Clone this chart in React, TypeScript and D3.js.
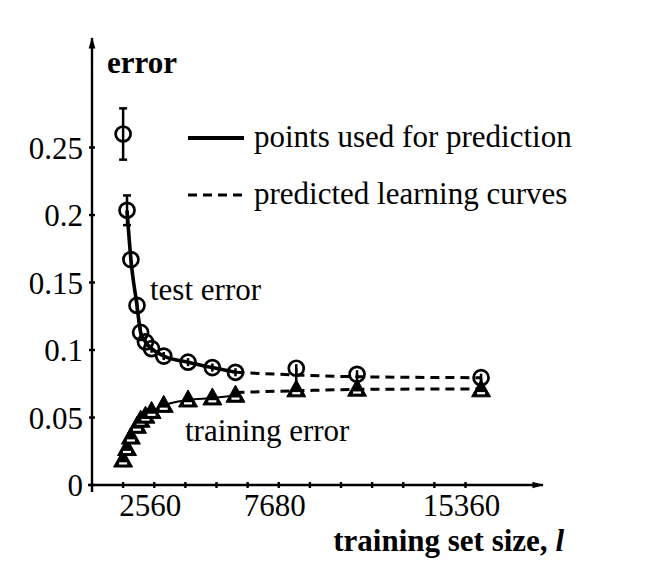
import React from "react";
import * as d3 from "d3";

// Training set sizes of the measured points used to fit the curves
const fitSizes = [1280, 1440, 1600, 1850, 2000, 2200, 2450, 2950, 3950, 4950, 5900];
const fitTest = [0.26, 0.2035, 0.167, 0.133, 0.113, 0.106, 0.101, 0.0955, 0.091, 0.087, 0.0835];
const fitTestErr = [0.019, 0.011, 0.006, 0.005, 0.004, 0.004, 0.003, 0.003, 0.003, 0.003, 0.003];
const fitTrain = [0.0185, 0.027, 0.0355, 0.0435, 0.048, 0.051, 0.0545, 0.059, 0.063, 0.0645, 0.0665];

// Measured points at larger sizes, checked against the extrapolation
const checkSizes = [8400, 10900, 16000];
const checkTest = [0.0865, 0.082, 0.0795];
const checkTrain = [0.0705, 0.071, 0.0705];

// Predicted learning curves
const predSizes = [5900, 8400, 10900, 16000];
const predTest = [0.0835, 0.0815, 0.0802, 0.0795];
const predTrain = [0.0685, 0.0698, 0.0708, 0.0712];

const yTicks = [0, 0.05, 0.1, 0.15, 0.2, 0.25];
const yTickLabels = ["0", "0.05", "0.1", "0.15", "0.2", "0.25"];
const xMinorTicks = d3.range(1, 13).map((k) => k * 1280);
const xTicks = [2560, 7680, 15360];

const W = 648;
const H = 580;
const X0 = 92;
const Y0 = 485;

const x = d3.scaleLinear().domain([0, 15360]).range([X0, 465.5]);
const y = d3.scaleLinear().domain([0, 0.25]).range([Y0, 147.5]);

const serif = "'Liberation Serif', 'DejaVu Serif', serif";
const FS = 31;

function Triangle({ cx, cy }: { cx: number; cy: number }) {
  return (
    <g transform={`translate(${cx},${cy})`}>
      <path d="M0,-10L9.5,7L-9.5,7Z" fill="#000" stroke="#000" strokeWidth={1} strokeLinejoin="round" />
      <rect x={-4} y={2.3} width={8} height={2.2} fill="#fff" />
    </g>
  );
}

function Circle({ cx, cy, e }: { cx: number; cy: number; e: number }) {
  const top = y(y.invert(cy) + e);
  const bot = y(y.invert(cy) - e);
  const caps = e > 0.008;
  return (
    <g>
      <line x1={cx} x2={cx} y1={top} y2={bot} stroke="#000" strokeWidth={2.5} />
      {caps && <line x1={cx - 4} x2={cx + 4} y1={top} y2={top} stroke="#000" strokeWidth={2.5} />}
      {caps && <line x1={cx - 4} x2={cx + 4} y1={bot} y2={bot} stroke="#000" strokeWidth={2.5} />}
      <circle cx={cx} cy={cy} r={7.5} fill="none" stroke="#000" strokeWidth={2.7} />
    </g>
  );
}

export default function App() {
  const line = d3
    .line<[number, number]>()
    .x((d) => x(d[0]))
    .y((d) => y(d[1]))
    .curve(d3.curveMonotoneX);

  const fitTestPts = fitSizes.slice(1).map((s, i) => [s, fitTest[i + 1]] as [number, number]);
  const fitTrainPts = fitSizes.slice(1).map((s, i) => [s, fitTrain[i + 1]] as [number, number]);
  const predTestPts = predSizes.map((s, i) => [s, predTest[i]] as [number, number]);
  const predTrainPts = predSizes.map((s, i) => [s, predTrain[i]] as [number, number]);

  return (
    <svg width={W} height={H} style={{ display: "block", margin: "-8px", background: "#fff" }}>
      <defs>
        <marker id="arrow" viewBox="0 0 12 10" refX="11" refY="5" markerWidth="5" markerHeight="4" orient="auto">
          <path d="M0,1.5L12,5L0,8.5Z" fill="#000" />
        </marker>
      </defs>

      {/* axes */}
      <line x1={X0} x2={X0} y1={Y0 + 7} y2={38} stroke="#000" strokeWidth={2.4} markerEnd="url(#arrow)" />
      <line x1={X0 - 4} x2={543} y1={Y0} y2={Y0} stroke="#000" strokeWidth={2.4} markerEnd="url(#arrow)" />

      {yTicks.map((t, i) => (
        <g key={`yt${i}`}>
          <line x1={X0 - 3} x2={X0 + 3} y1={y(t)} y2={y(t)} stroke="#000" strokeWidth={2.4} />
          <text x={83} y={y(t) + 11} textAnchor="end" fontFamily={serif} fontSize={FS}>
            {yTickLabels[i]}
          </text>
        </g>
      ))}
      {xMinorTicks.map((t) => (
        <line key={`xt${t}`} x1={x(t)} x2={x(t)} y1={Y0 - 3} y2={Y0 + 3} stroke="#000" strokeWidth={2.4} />
      ))}
      {xTicks.map((t) => (
        <text key={`xl${t}`} x={x(t) - 4} y={516} textAnchor="middle" fontFamily={serif} fontSize={FS}>
          {t}
        </text>
      ))}

      <text x={107} y={73} fontFamily={serif} fontSize={FS} fontWeight="bold">
        error
      </text>
      <text x={564} y={551} textAnchor="end" fontFamily={serif} fontSize={FS} fontWeight="bold">
        training set size,{"  "}
        <tspan fontStyle="italic">l</tspan>
      </text>

      {/* fitted curves */}
      <path d={line(fitTestPts) || ""} fill="none" stroke="#000" strokeWidth={3.6} />
      <path d={line(fitTrainPts) || ""} fill="none" stroke="#000" strokeWidth={2} />
      <path d={line(predTestPts) || ""} fill="none" stroke="#000" strokeWidth={3} strokeDasharray="9,6" />
      <path d={line(predTrainPts) || ""} fill="none" stroke="#000" strokeWidth={3} strokeDasharray="9,6" />

      {/* stems joining the checked test and training points */}
      {checkSizes.map((s, i) => (
        <line
          key={`st${i}`}
          x1={x(s)}
          x2={x(s)}
          y1={y(checkTest[i])}
          y2={y(checkTrain[i])}
          stroke="#000"
          strokeWidth={2.5}
        />
      ))}

      {/* training error markers */}
      {fitSizes.map((s, i) => (
        <Triangle key={`tr${i}`} cx={x(s)} cy={y(fitTrain[i])} />
      ))}
      {checkSizes.map((s, i) => (
        <Triangle key={`ctr${i}`} cx={x(s)} cy={y(checkTrain[i])} />
      ))}

      {/* test error markers */}
      {fitSizes.map((s, i) => (
        <Circle key={`te${i}`} cx={x(s)} cy={y(fitTest[i])} e={fitTestErr[i]} />
      ))}
      {checkSizes.map((s, i) => (
        <Circle key={`cte${i}`} cx={x(s)} cy={y(checkTest[i])} e={0.003} />
      ))}

      {/* annotations */}
      <text x={150} y={300} fontFamily={serif} fontSize={FS}>
        test error
      </text>
      <text x={185} y={441} fontFamily={serif} fontSize={FS}>
        training error
      </text>

      {/* legend */}
      <line x1={188} x2={244} y1={138} y2={138} stroke="#000" strokeWidth={4} />
      <text x={254} y={147} fontFamily={serif} fontSize={FS}>
        points used for prediction
      </text>
      <line x1={188} x2={244} y1={195} y2={195} stroke="#000" strokeWidth={3} strokeDasharray="9,6" />
      <text x={254} y={204} fontFamily={serif} fontSize={FS}>
        predicted learning curves
      </text>
    </svg>
  );
}
